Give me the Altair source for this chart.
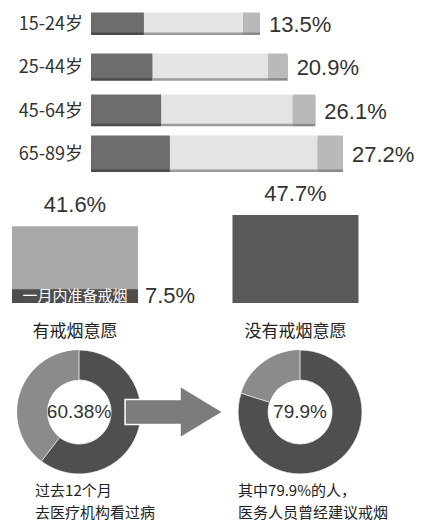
import altair as alt
import pandas as pd

# ---------------- data ----------------
ages = ["15-24岁", "25-44岁", "45-64岁", "65-89岁"]
age_pct = [13.5, 20.9, 26.1, 27.2]
age_labels = ["13.5%", "20.9%", "26.1%", "27.2%"]

intent_cats = ["有戒烟意愿", "没有戒烟意愿"]
intent_pct = [41.6, 47.7]
intent_labels = ["41.6%", "47.7%"]
month_pct = [7.5]
month_labels = ["7.5%"]
month_text = ["一月内准备戒烟"]

donut_groups = ["看过病", "建议戒烟"]
donut_dark = [60.38, 79.9]
donut_labels = ["60.38%", "79.9%"]
captions = ["过去12个月\n去医疗机构看过病", "其中79.9%的人，\n医务人员曾经建议戒烟"]

# ---------------- style ----------------
W = 407
NUM_FONT = "Liberation Sans"
CJK_FONT = "Noto Sans CJK SC"
TXT = "#333333"

# ---------------- panel 1: cigarettes ----------------
cig = pd.DataFrame({"age": ages, "pct": age_pct, "label": age_labels})
base1 = (
    alt.Chart(cig)
    .transform_window(rank="rank()", sort=[alt.SortField("pct", order="ascending")])
    .transform_calculate(L="datum.rank + 5.1")
    .transform_calculate(f1="0.313 * datum.L", a0="0.9 * datum.L", zero="0")
)
xs = alt.Scale(domain=[-3.0, 11.7], nice=False, zero=False)
Y1 = alt.Y("age:N", axis=None,
           scale=alt.Scale(type="point", domain=ages, padding=0.404, align=0.4857))
SW_full = alt.StrokeWidth("rank:Q", scale=alt.Scale(domain=[1, 4], range=[20, 34]), legend=None)
SW_body = alt.StrokeWidth("rank:Q", scale=alt.Scale(domain=[1, 4], range=[15, 29]), legend=None)


def seg(start, end, shade, body):
    lo = base1.mark_rule(color=shade).encode(
        x=alt.X(start, scale=xs, axis=None), x2=end, y=Y1, strokeWidth=SW_full)
    hi = base1.mark_rule(color=body, yOffset=-2.5).encode(
        x=alt.X(start, scale=xs, axis=None), x2=end, y=Y1, strokeWidth=SW_body)
    return [lo, hi]


cig_layers = (seg("zero:Q", "f1:Q", "#4a4a4a", "#6d6d6d")
              + seg("f1:Q", "a0:Q", "#9a9a9a", "#e4e4e4")
              + seg("a0:Q", "L:Q", "#8a8a8a", "#b9b9b9"))
age_txt = base1.mark_text(align="right", baseline="middle", dx=-8, fontSize=18,
                          font=CJK_FONT, color=TXT).encode(
    x=alt.X("zero:Q", scale=xs, axis=None), y=Y1, text="age:N")
pct_txt = base1.mark_text(align="left", baseline="middle", dx=9, fontSize=22,
                          font=NUM_FONT, color=TXT).encode(
    x=alt.X("L:Q", scale=xs, axis=None), y=Y1, text="label:N")
panel1 = alt.layer(*cig_layers, age_txt, pct_txt).properties(width=W, height=165)

# ---------------- panel 2: intention bars ----------------
mid = pd.DataFrame({"cat": intent_cats, "pct": intent_pct, "label": intent_labels})
month = pd.DataFrame({"cat": [intent_cats[0]], "pct": month_pct,
                      "label": month_labels, "text": month_text})
xb = alt.Scale(type="band", domain=intent_cats, paddingInner=0.4286, paddingOuter=0.1372, align=0.066)
yb = alt.Scale(domain=[-21.68, 70.46], nice=False, zero=False)
X2 = alt.X("cat:N", scale=xb, axis=None)
Yv = alt.Y("pct:Q", scale=yb, axis=None)

midb = alt.Chart(mid).transform_calculate(base="0")
bars = midb.mark_bar().encode(
    x=X2, y=Yv, y2="base:Q",
    color=alt.Color("cat:N", scale=alt.Scale(domain=intent_cats, range=["#a8a8a8", "#595959"]), legend=None))
bar_lbl = midb.mark_text(baseline="middle", dy=-21, fontSize=22, font=NUM_FONT, color=TXT).encode(
    x=X2, y=Yv, text="label:N")
cat_lbl = midb.mark_text(baseline="middle", dy=29, fontSize=17, font=CJK_FONT, color="#222222").encode(
    x=X2, y=alt.Y("base:Q", scale=yb, axis=None), text="cat:N")
monb = alt.Chart(month).transform_calculate(base="0", m="datum.pct / 2")
strip = monb.mark_bar(color="#4e4e4e").encode(x=X2, y=Yv, y2="base:Q")
strip_txt = monb.mark_text(baseline="middle", fontSize=15, font=CJK_FONT, color="white").encode(
    x=X2, y=alt.Y("m:Q", scale=yb, axis=None), text="text:N")
strip_lbl = monb.mark_text(align="left", baseline="middle", dx=70, fontSize=22,
                           font=NUM_FONT, color=TXT).encode(
    x=X2, y=alt.Y("m:Q", scale=yb, axis=None), text="label:N")
panel2 = alt.layer(bars, strip, bar_lbl, cat_lbl, strip_txt, strip_lbl).properties(width=W, height=170)

# ---------------- panel 3: donuts + arrow ----------------
dn = pd.DataFrame({"group": donut_groups, "dark": donut_dark, "label": donut_labels})
pscale = alt.Scale(type="point", domain=donut_groups, padding=0.4208, align=0.382)
Xd = alt.X("group:N", axis=None, scale=pscale)
ts = alt.Scale(domain=[0, 100], range=[0, 6.283185307179586])
dbase = alt.Chart(dn).transform_calculate(zero="0", full="100")
ring = dbase.mark_arc(innerRadius=32, outerRadius=62, color="#8b8b8b").encode(
    x=Xd, theta=alt.Theta("zero:Q", scale=ts), theta2="full:Q")
dark = dbase.mark_arc(innerRadius=32, outerRadius=62, color="#4f4f4f",
                      stroke="white", strokeWidth=0.8).encode(
    x=Xd, theta=alt.Theta("zero:Q", scale=ts), theta2="dark:Q")
ctr = alt.Chart(dn).mark_text(baseline="middle", fontSize=19, font=NUM_FONT, color=TXT).encode(
    x=Xd, text="label:N")
arrow_path = "M-1,-0.255L0.122,-0.255L0.122,-0.53L1,0L0.122,0.53L0.122,0.255L-1,0.255Z"
arrow = alt.Chart(pd.DataFrame({"group": [donut_groups[0]]})).mark_point(
    shape=arrow_path, size=9604, filled=True, fill="#7c7c7c", opacity=1,
    stroke="white", strokeWidth=1.5, xOffset=95).encode(x=Xd)
panel3 = alt.layer(ring, dark, arrow, ctr).properties(width=W, height=138)

# ---------------- panel 4: captions ----------------
cap = pd.DataFrame({"group": donut_groups, "text": captions})
Xc = alt.X("group:N", axis=None, scale=pscale)
cap_l = alt.Chart(cap).transform_filter(alt.datum.group == donut_groups[0]).mark_text(
    align="left", baseline="top", lineBreak="\n", lineHeight=22, fontSize=15, dx=-44, dy=-18,
    font=CJK_FONT, color="#222222").encode(x=Xc, text="text:N")
cap_r = alt.Chart(cap).transform_filter(alt.datum.group == donut_groups[1]).mark_text(
    align="left", baseline="top", lineBreak="\n", lineHeight=22, fontSize=15, dx=-62, dy=-18,
    font=CJK_FONT, color="#222222").encode(x=Xc, text="text:N")
panel4 = alt.layer(cap_l, cap_r).properties(width=W, height=42)

chart = (
    alt.vconcat(panel1, panel2, panel3, panel4, spacing=0)
    .properties(padding=0, background="white")
    .configure_view(strokeWidth=0)
)

chart.save("out.html", embed_options={"renderer": "svg", "actions": False})
